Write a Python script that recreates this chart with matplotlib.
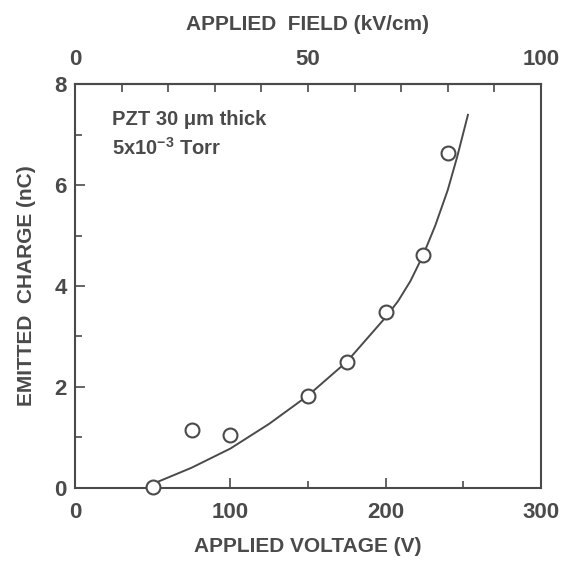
import matplotlib.pyplot as plt
from matplotlib.ticker import MultipleLocator, FixedLocator

INK = "#4a4a4a"
plt.rcParams['font.family'] = ['Liberation Sans', 'DejaVu Sans']
plt.rcParams['font.weight'] = 'bold'
plt.rcParams['axes.labelweight'] = 'bold'
plt.rcParams['mathtext.fontset'] = 'custom'
plt.rcParams['mathtext.rm'] = 'Liberation Sans:bold'
plt.rcParams['mathtext.default'] = 'rm'

# measured points
voltage = [50, 75, 100, 150, 175, 200, 224, 240]
charge = [0.02, 1.15, 1.05, 1.82, 2.5, 3.49, 4.61, 6.63]

# fitted curve
fit_v = [50, 75, 100, 125, 150, 175, 200, 208, 216, 224, 232, 240, 246, 253]
fit_q = [0.08, 0.4, 0.78, 1.27, 1.83, 2.5, 3.38, 3.7, 4.1, 4.6, 5.2, 5.9, 6.55, 7.39]

field_ticks = [0, 50, 100]
field_minor = [10, 20, 30, 40, 60, 70, 80, 90]

fig = plt.figure(figsize=(5.62, 5.64), dpi=100, facecolor="white")
ax = fig.add_axes([0.1335, 0.1348, 0.829, 0.7162])

ax.plot(fit_v, fit_q, color=INK, lw=1.4, zorder=2)
ax.plot(voltage, charge, 'o', ms=10, mfc='white', mec=INK, mew=1.5, zorder=3,
        clip_on=False)

ax.set_xlim(0, 300)
ax.set_ylim(0, 8)
ax.xaxis.set_major_locator(MultipleLocator(100))
ax.xaxis.set_minor_locator(MultipleLocator(50))
ax.yaxis.set_major_locator(MultipleLocator(2))
ax.yaxis.set_minor_locator(MultipleLocator(1))
ax.tick_params(which='both', direction='in', colors=INK, top=False, right=False,
               labelsize=16, width=1.2)
ax.tick_params(axis='x', which='major', length=7, pad=10)
ax.tick_params(axis='y', which='major', length=7, pad=6)
ax.tick_params(which='minor', length=5)
for sp in ax.spines.values():
    sp.set_color(INK)
    sp.set_linewidth(1.5)

ax.set_xlabel("APPLIED VOLTAGE (V)", fontsize=15, color=INK, labelpad=10)
ax.set_ylabel("EMITTED  CHARGE (nC)", fontsize=15, color=INK, labelpad=13)

top = ax.secondary_xaxis('top', functions=(lambda v: v / 3.0, lambda f: f * 3.0))
top.xaxis.set_major_locator(FixedLocator(field_ticks))
top.xaxis.set_minor_locator(FixedLocator(field_minor))
top.tick_params(which='both', direction='in', colors=INK, labelsize=16, width=1.2,
                length=6, pad=10)
top.spines['top'].set_color(INK)
top.spines['top'].set_linewidth(1.5)
top.set_xlabel("APPLIED  FIELD (kV/cm)", fontsize=15, color=INK, labelpad=14)

ax.text(0.08, 0.935, "PZT 30 \u03bcm thick", transform=ax.transAxes, fontsize=14.5,
        color=INK, va='top')
ax.text(0.08, 0.87, r"5x10$^{-3}$ Torr", transform=ax.transAxes, fontsize=14.5,
        color=INK, va='top')

fig.savefig("out.png", dpi=100)
